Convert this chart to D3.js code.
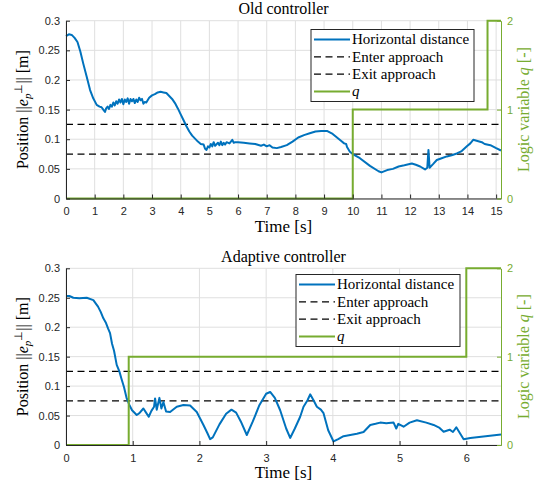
<!DOCTYPE html>
<html>
<head>
<meta charset="utf-8">
<script src="https://cdn.jsdelivr.net/npm/d3@7"></script>
<style>
  body { margin: 0; background: #fff; }
</style>
</head>
<body>
<svg id="chart" width="539" height="487"></svg>
<script>
// Old controller: horizontal distance vs time
const oldTime = [0, 0.1, 0.2, 0.3, 0.4, 0.5, 0.6, 0.72, 0.84, 0.95, 1.07, 1.17, 1.24, 1.3, 1.36, 1.4, 1.45, 1.5, 1.55, 1.6,
  1.65, 1.7, 1.75, 1.8, 1.85, 1.9, 1.95, 2.0, 2.05, 2.1, 2.15, 2.2, 2.25, 2.3, 2.35, 2.4, 2.45, 2.5, 2.55, 2.6,
  2.65, 2.7, 2.75, 2.8, 2.9, 3.0, 3.1, 3.2, 3.3, 3.4, 3.5, 3.6, 3.7, 3.8, 3.9, 4.0, 4.1, 4.2, 4.3, 4.4,
  4.5, 4.6, 4.7, 4.8, 4.85, 4.9, 4.95, 5.0, 5.05, 5.1, 5.15, 5.2, 5.3, 5.35, 5.4, 5.45, 5.5, 5.55, 5.6, 5.7,
  5.8, 5.85, 5.9, 6.0, 6.2, 6.4, 6.6, 6.8, 6.9, 7.0, 7.1, 7.2, 7.35, 7.5, 7.7, 7.9, 8.1, 8.3, 8.5, 8.7,
  8.9, 9.1, 9.3, 9.45, 9.6, 9.7, 9.77, 9.8, 9.9, 10.0, 10.25, 10.6, 10.9, 11.0, 11.2, 11.4, 11.6, 11.8, 12.06, 12.2,
  12.35, 12.52, 12.6, 12.64, 12.68, 12.8, 12.93, 13.1, 13.28, 13.45, 13.63, 13.8, 13.98, 14.1, 14.2, 14.35, 14.5, 14.6, 14.8, 15.0,
  15.17];
const oldDist = [0.274, 0.277, 0.276, 0.271, 0.264, 0.248, 0.228, 0.206, 0.183, 0.169, 0.158, 0.155, 0.154, 0.150, 0.146, 0.152, 0.155, 0.151, 0.158, 0.155,
  0.162, 0.157, 0.164, 0.160, 0.167, 0.162, 0.168, 0.159, 0.167, 0.163, 0.169, 0.160, 0.168, 0.164, 0.168, 0.161, 0.167, 0.163, 0.170, 0.166,
  0.168, 0.160, 0.163, 0.162, 0.170, 0.174, 0.176, 0.179, 0.180, 0.179, 0.178, 0.173, 0.168, 0.161, 0.152, 0.142, 0.132, 0.122, 0.113, 0.106,
  0.101, 0.096, 0.092, 0.091, 0.084, 0.082, 0.088, 0.086, 0.092, 0.088, 0.095, 0.089, 0.094, 0.090, 0.096, 0.090, 0.094, 0.091, 0.095, 0.093,
  0.099, 0.094, 0.095, 0.095, 0.094, 0.093, 0.092, 0.089, 0.091, 0.088, 0.090, 0.086, 0.085, 0.087, 0.090, 0.096, 0.103, 0.107, 0.110, 0.113,
  0.114, 0.114, 0.109, 0.103, 0.097, 0.093, 0.092, 0.087, 0.079, 0.075, 0.068, 0.055, 0.046, 0.044, 0.048, 0.050, 0.054, 0.056, 0.059, 0.057,
  0.054, 0.049, 0.052, 0.082, 0.052, 0.058, 0.065, 0.068, 0.071, 0.073, 0.076, 0.080, 0.088, 0.093, 0.099, 0.097, 0.095, 0.092, 0.090, 0.085,
  0.081];
const oldQTime = [0, 10.0, 10.0, 14.7, 14.7, 15.17];
const oldQ = [0, 0, 1, 1, 2, 2];

// Adaptive controller
const adaptTime = [0, 0.05, 0.11, 0.2, 0.31, 0.41, 0.48, 0.52, 0.56, 0.6, 0.63, 0.66, 0.69, 0.72, 0.76, 0.8, 0.83, 0.87, 0.91, 0.95,
  0.99, 1.06, 1.1, 1.16, 1.2, 1.24, 1.28, 1.32, 1.335, 1.36, 1.4, 1.43, 1.46, 1.5, 1.56, 1.66, 1.76, 1.86, 1.96, 2.06,
  2.12, 2.16, 2.2, 2.3, 2.4, 2.48, 2.55, 2.62, 2.71, 2.8, 2.9, 3.0, 3.06, 3.13, 3.21, 3.3, 3.36, 3.43, 3.51, 3.56,
  3.62, 3.66, 3.71, 3.76, 3.82, 3.86, 3.93, 4.01, 4.08, 4.16, 4.36, 4.46, 4.56, 4.64, 4.71, 4.8, 4.91, 4.95, 4.98, 5.06,
  5.15, 5.26, 5.4, 5.51, 5.6, 5.66, 5.75, 5.8, 5.85, 5.96, 6.06, 6.52];
const adaptDist = [0.253, 0.253, 0.250, 0.249, 0.250, 0.246, 0.235, 0.226, 0.215, 0.207, 0.198, 0.190, 0.172, 0.160, 0.136, 0.125, 0.113, 0.098, 0.079, 0.068,
  0.059, 0.051, 0.054, 0.062, 0.055, 0.048, 0.058, 0.065, 0.079, 0.060, 0.080, 0.062, 0.073, 0.057, 0.056, 0.065, 0.068, 0.067, 0.056, 0.034,
  0.020, 0.010, 0.013, 0.035, 0.053, 0.060, 0.055, 0.040, 0.017, 0.040, 0.068, 0.087, 0.090, 0.080, 0.059, 0.028, 0.012, 0.028, 0.048, 0.065,
  0.076, 0.086, 0.076, 0.065, 0.060, 0.054, 0.025, 0.006, 0.010, 0.015, 0.019, 0.022, 0.034, 0.036, 0.038, 0.037, 0.038, 0.028, 0.036, 0.031,
  0.038, 0.042, 0.038, 0.034, 0.029, 0.0225, 0.026, 0.022, 0.030, 0.0097, 0.012, 0.018];
const adaptQTime = [0, 0.94, 0.94, 6.0, 6.0, 6.52];
const adaptQ = [0, 0, 1, 1, 2, 2];

// thresholds and ticks
const enterApproach = 0.125;
const exitApproach = 0.075;
const yTicks = [0, 0.05, 0.1, 0.15, 0.2, 0.25, 0.3];
const qTicks = [0, 1, 2];
const oldXTicks = [0, 1, 2, 3, 4, 5, 6, 7, 8, 9, 10, 11, 12, 13, 14, 15];
const adaptXTicks = [0, 1, 2, 3, 4, 5, 6];
const legendLabels = ["Horizontal distance", "Enter approach", "Exit approach", "q"];

const blue = "#0072BD", green = "#77AC30", dark = "#262626", gridColor = "#dfdfdf";
const sans = "'Liberation Sans', Arial, sans-serif";
const serif = "'Liberation Serif', 'Times New Roman', serif";
const fmt = d3.format("~g");
const svg = d3.select("#chart");

const drawPanel = (p) => {
  const x = d3.scaleLinear().domain([0, p.xMax]).range([p.left, p.right]);
  const y = d3.scaleLinear().domain([0, 0.3]).range([p.bottom, p.top]);
  const yq = d3.scaleLinear().domain([0, 2]).range([p.bottom, p.top]);
  const g = svg.append("g");

  // grid
  g.selectAll(".vg").data(p.xTicks).enter().append("line")
    .attr("x1", (d) => x(d)).attr("x2", (d) => x(d))
    .attr("y1", p.top).attr("y2", p.bottom)
    .attr("stroke", gridColor).attr("stroke-width", 1);
  g.selectAll(".hg").data(yTicks).enter().append("line")
    .attr("x1", p.left).attr("x2", p.right)
    .attr("y1", (d) => y(d)).attr("y2", (d) => y(d))
    .attr("stroke", gridColor).attr("stroke-width", 1);

  // threshold lines
  [enterApproach, exitApproach].forEach((v) => {
    g.append("line")
      .attr("x1", p.left).attr("x2", p.right)
      .attr("y1", y(v)).attr("y2", y(v))
      .attr("stroke", "#000").attr("stroke-width", 1.2)
      .attr("stroke-dasharray", "7,4.5");
  });

  // data lines
  const line = d3.line().x((d) => x(d[0])).y((d) => y(d[1]));
  const qLine = d3.line().x((d) => x(d[0])).y((d) => yq(d[1]));
  g.append("path")
    .datum(d3.zip(p.time, p.dist))
    .attr("fill", "none").attr("stroke", blue)
    .attr("stroke-width", 2).attr("stroke-linejoin", "round")
    .attr("d", line);
  g.append("path")
    .datum(d3.zip(p.qTime, p.q))
    .attr("fill", "none").attr("stroke", green)
    .attr("stroke-width", 2)
    .attr("d", qLine);

  // axes
  const xAxis = g.append("g")
    .attr("transform", "translate(0," + p.bottom + ")")
    .call(d3.axisBottom(x).tickValues(p.xTicks).tickFormat(fmt).tickSize(-4).tickSizeOuter(0).tickPadding(9));
  const yAxis = g.append("g")
    .attr("transform", "translate(" + p.left + ",0)")
    .call(d3.axisLeft(y).tickValues(yTicks).tickFormat(fmt).tickSize(-4).tickSizeOuter(0).tickPadding(6));
  const qAxis = g.append("g")
    .attr("transform", "translate(" + p.right + ",0)")
    .call(d3.axisRight(yq).tickValues(qTicks).tickFormat(fmt).tickSize(-4).tickSizeOuter(0).tickPadding(6));
  [xAxis, yAxis].forEach((a) => {
    a.select(".domain").attr("stroke", dark);
    a.selectAll(".tick line").attr("stroke", dark);
    a.selectAll("text").attr("fill", dark).style("font-size", "11px").style("font-family", sans);
  });
  qAxis.select(".domain").attr("stroke", green);
  qAxis.selectAll(".tick line").attr("stroke", green);
  qAxis.selectAll("text").attr("fill", green).style("font-size", "11px").style("font-family", sans);

  // title and axis labels
  const cx = (p.left + p.right) / 2, cy = (p.top + p.bottom) / 2;
  g.append("text")
    .attr("x", cx).attr("y", p.top - 6.5)
    .attr("text-anchor", "middle").style("font-family", serif).style("font-size", "16px").attr("fill", "#000")
    .text(p.title);
  g.append("text")
    .attr("x", cx).attr("y", p.bottom + 33)
    .attr("text-anchor", "middle").style("font-family", serif).style("font-size", "17px").attr("fill", "#000")
    .text("Time [s]");

  const yl = g.append("text")
    .attr("transform", "translate(28," + cy + ") rotate(-90)")
    .attr("text-anchor", "middle").style("font-family", serif).style("font-size", "16px").attr("fill", "#000");
  yl.append("tspan").text("Position ||");
  yl.append("tspan").style("font-style", "italic").text("e");
  yl.append("tspan").style("font-style", "italic").style("font-size", "11px").attr("dy", 3).text("p");
  yl.append("tspan").style("font-size", "11px").attr("dy", -9).text("\u22a5");
  yl.append("tspan").attr("dy", 6).text("|| [m]");

  const ql = g.append("text")
    .attr("transform", "translate(" + (p.right + 28) + "," + cy + ") rotate(-90)")
    .attr("text-anchor", "middle").style("font-family", serif).style("font-size", "16px").attr("fill", green);
  ql.append("tspan").text("Logic variable ");
  ql.append("tspan").style("font-style", "italic").text("q");
  ql.append("tspan").text(" [-]");

  // legend
  const lg = g.append("g").attr("transform", "translate(" + p.legX + "," + p.legY + ")");
  lg.append("rect").attr("width", p.legW).attr("height", 72)
    .attr("fill", "#fff").attr("stroke", dark).attr("stroke-width", 1);
  const styles = [
    { stroke: blue, dash: null, w: 2 },
    { stroke: "#000", dash: "7,4.5", w: 1.2 },
    { stroke: "#000", dash: "7,4.5", w: 1.2 },
    { stroke: green, dash: null, w: 2 },
  ];
  legendLabels.forEach((label, i) => {
    const ly = 10 + i * 17.3;
    lg.append("line").attr("x1", 3).attr("x2", 39).attr("y1", ly).attr("y2", ly)
      .attr("stroke", styles[i].stroke).attr("stroke-width", styles[i].w)
      .attr("stroke-dasharray", styles[i].dash);
    lg.append("text")
      .attr("x", 41).attr("y", ly + 4.8)
      .style("font-family", serif)
      .style("font-size", "15px").style("font-style", i === 3 ? "italic" : "normal")
      .attr("fill", "#000").text(label);
  });
};

drawPanel({ title: "Old controller", top: 20.7, bottom: 198.5, left: 66, right: 501, xMax: 15.17,
  xTicks: oldXTicks, time: oldTime, dist: oldDist, qTime: oldQTime, q: oldQ,
  legX: 311, legY: 29.5, legW: 163 });
drawPanel({ title: "Adaptive controller", top: 268.3, bottom: 445, left: 66, right: 501, xMax: 6.52,
  xTicks: adaptXTicks, time: adaptTime, dist: adaptDist, qTime: adaptQTime, q: adaptQ,
  legX: 296, legY: 274.5, legW: 164 });
</script>
</body>
</html>
